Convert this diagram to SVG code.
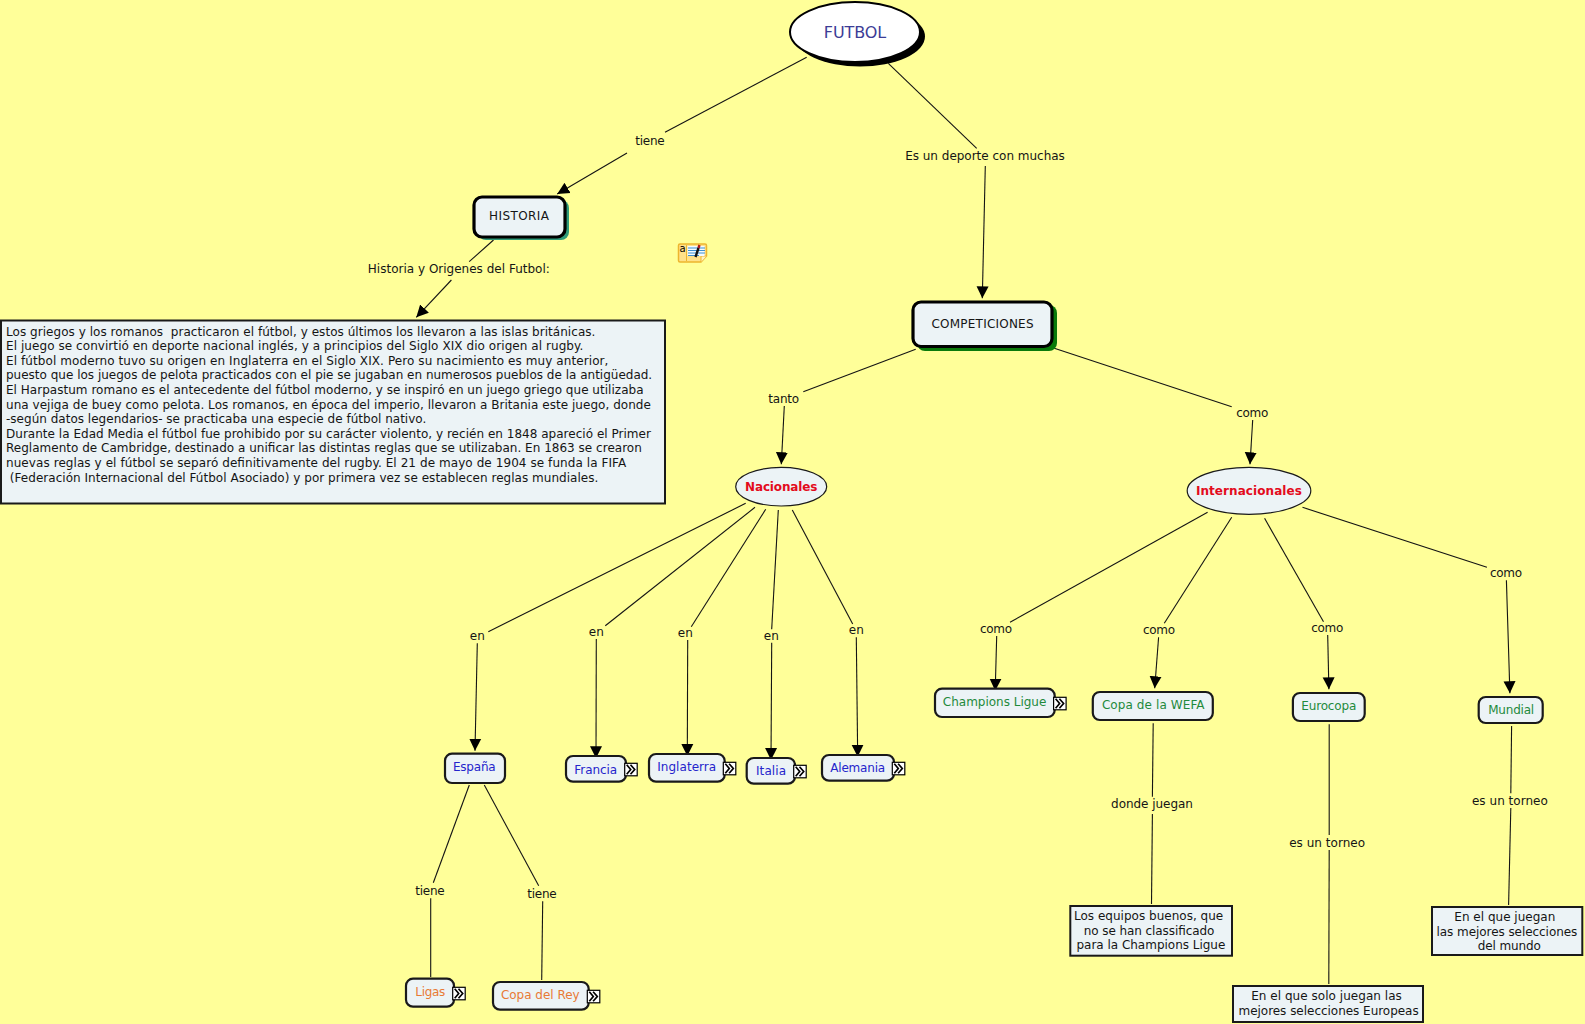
<svg xmlns="http://www.w3.org/2000/svg" width="1585" height="1024" viewBox="0 0 1585 1024">
<style>
text{font-family:"DejaVu Sans","Verdana",sans-serif;font-size:12px;fill:#151515;text-anchor:middle}
.l{fill:none;stroke:#141414;stroke-width:1.1}
.a{marker-end:url(#arrow)}
.box{fill:#ecf3f6;stroke:#1a1a1a;stroke-width:2.2}
.big{stroke:#000;stroke-width:3.2}
.txt{fill:#ecf3f6;stroke:#1a1a1a;stroke-width:2}
.body text{text-anchor:start}
.blue{fill:#2525cc}
.green{fill:#1f8a3c}
.orange{fill:#e87a35}
.red{fill:#e30b1c;font-weight:bold}
</style>
<defs>
<marker id="arrow" markerUnits="userSpaceOnUse" markerWidth="14" markerHeight="14" refX="12" refY="6.500" orient="auto">
<path d="M0,0.500 L12,6.500 L0,12.500 Z" fill="#000"/>
</marker>
<g id="more">
<rect x="0" y="0" width="12.500" height="12.500" fill="#fff" stroke="#000" stroke-width="1.200"/>
<path d="M2,1.500 L6,6.200 L2,11 M5.800,1.500 L10,6.200 L5.800,11" fill="none" stroke="#000" stroke-width="1.700"/>
</g>
</defs>
<rect width="1585" height="1024" fill="#ffff99"/>

<g id="connectors">
<line class="l" x1="806.700" y1="57.300" x2="665" y2="132.300"/>
<line class="l a" x1="627" y1="153" x2="557.200" y2="194"/>
<line class="l" x1="888.300" y1="63.300" x2="976.700" y2="148.300"/>
<line class="l a" x1="985.300" y1="166" x2="982.300" y2="298.300"/>
<line class="l" x1="493.500" y1="240" x2="469.200" y2="261.700"/>
<line class="l a" x1="451.400" y1="280" x2="416.300" y2="317.300"/>
<line class="l" x1="915.700" y1="349.300" x2="803.300" y2="391.700"/>
<line class="l a" x1="784.300" y1="406" x2="781.300" y2="464.300"/>
<line class="l" x1="1054.300" y1="348.300" x2="1231.700" y2="406.700"/>
<line class="l a" x1="1252.700" y1="420" x2="1250" y2="464.300"/>
<line class="l" x1="745.700" y1="503.300" x2="488.300" y2="631.700"/>
<line class="l a" x1="477.300" y1="643.300" x2="475" y2="750.700"/>
<line class="l" x1="755" y1="507.300" x2="605.300" y2="625.700"/>
<line class="l a" x1="596.300" y1="639" x2="596" y2="758.300"/>
<line class="l" x1="765.700" y1="509.300" x2="691.300" y2="626.700"/>
<line class="l a" x1="687.700" y1="640" x2="687.300" y2="756"/>
<line class="l" x1="778.300" y1="510" x2="771.700" y2="629.300"/>
<line class="l a" x1="771.700" y1="642.700" x2="771" y2="760"/>
<line class="l" x1="792.300" y1="510" x2="852.700" y2="624"/>
<line class="l a" x1="856.300" y1="637.300" x2="857.700" y2="756.700"/>
<line class="l" x1="469.300" y1="785" x2="433.300" y2="882.700"/>
<line class="l" x1="430.700" y1="898.300" x2="430.700" y2="977"/>
<line class="l" x1="484.300" y1="785" x2="538.700" y2="885.700"/>
<line class="l" x1="542.700" y1="901.300" x2="541.700" y2="980"/>
<line class="l" x1="1207.600" y1="512.300" x2="1010" y2="622.300"/>
<line class="l a" x1="996.700" y1="636" x2="995.200" y2="690.700"/>
<line class="l" x1="1231.700" y1="517.300" x2="1164.300" y2="623.300"/>
<line class="l a" x1="1158.600" y1="637.300" x2="1154.700" y2="688.300"/>
<line class="l" x1="1264.600" y1="518.300" x2="1323.500" y2="621.700"/>
<line class="l a" x1="1327.700" y1="635" x2="1328.900" y2="689.300"/>
<line class="l" x1="1302.500" y1="507.300" x2="1486.900" y2="567.300"/>
<line class="l a" x1="1506.400" y1="580.300" x2="1509.900" y2="693.300"/>
<line class="l" x1="1153.200" y1="723.300" x2="1152.400" y2="796.700"/>
<line class="l" x1="1152.400" y1="814" x2="1151.500" y2="904"/>
<line class="l" x1="1329.200" y1="724.300" x2="1329.200" y2="835"/>
<line class="l" x1="1329.200" y1="850" x2="1328.800" y2="984"/>
<line class="l" x1="1511.600" y1="726" x2="1510.800" y2="793.300"/>
<line class="l" x1="1510.800" y1="808" x2="1508.600" y2="905"/>
</g>

<g id="link-labels">
<text x="650" y="144.500" textLength="29.500">tiene</text>
<text x="985" y="160" textLength="159.700">Es un deporte con muchas</text>
<text x="458.800" y="273" textLength="182">Historia y Origenes del Futbol:</text>
<text x="783.700" y="402.500" textLength="31">tanto</text>
<text x="1252.300" y="417" textLength="32">como</text>
<text x="477.300" y="640">en</text>
<text x="596.300" y="636">en</text>
<text x="685.300" y="637">en</text>
<text x="771.300" y="640">en</text>
<text x="856.300" y="634">en</text>
<text x="430" y="895" textLength="29.500">tiene</text>
<text x="542" y="898" textLength="29.500">tiene</text>
<text x="996" y="633" textLength="32">como</text>
<text x="1159" y="634" textLength="32">como</text>
<text x="1327.300" y="632" textLength="32">como</text>
<text x="1506" y="577" textLength="32">como</text>
<text x="1152" y="808" textLength="81.800">donde juegan</text>
<text x="1327.100" y="847" textLength="75.900">es un torneo</text>
<text x="1509.900" y="804.500" textLength="75.900">es un torneo</text>
</g>

<g id="futbol">
<ellipse cx="860" cy="36.500" rx="65" ry="30" fill="#000"/>
<ellipse cx="855" cy="32" rx="65" ry="30" fill="#fff" stroke="#000" stroke-width="2"/>
<text x="855" y="37.500" style="font-size:16px;fill:#3c3c96" textLength="62.300">FUTBOL</text>
</g>

<g id="historia">
<rect x="478" y="200" width="91" height="40" rx="8" fill="#2f9a78"/>
<rect class="box big" x="474" y="197" width="91" height="40" rx="8"/>
<text x="519" y="220" textLength="60">HISTORIA</text>
</g>

<g id="nota">
<path d="M680,244 H705 Q706.500,244 706.500,245.500 V256 L701,262 H680 Q678.500,262 678.500,260.500 V245.500 Q678.500,244 680,244 Z" fill="#ffe189" stroke="#edb52e" stroke-width="1.500"/>
<path d="M701,262 V256 H706.500" fill="#fff3c4" stroke="#edb52e" stroke-width="1"/>
<line x1="686.500" y1="245" x2="686.500" y2="261" stroke="#edb52e" stroke-width="1"/>
<text x="682.500" y="252" style="font-size:10px;fill:#000">a</text>
<rect x="687.500" y="246" width="17" height="10" fill="#f4fbff"/>
<path d="M688,248 H705 M688,250.500 H705 M688,253 H705 M688,255.500 H699" stroke="#3d8fd0" stroke-width="1" fill="none"/>
<path d="M695.500,257 L698.500,248" stroke="#111" stroke-width="2.400" fill="none"/>
<path d="M698.500,248 L699.500,245" stroke="#b01818" stroke-width="2.400" fill="none"/>
</g>

<g id="texto-historia" class="body">
<rect class="txt" x="1" y="320.500" width="664" height="183"/>
<text xml:space="preserve" x="6" y="335.500" textLength="589.400">Los griegos y los romanos  practicaron el fútbol, y estos últimos los llevaron a las islas británicas.</text>
<text x="6" y="350.100" textLength="577.300">El juego se convirtió en deporte nacional inglés, y a principios del Siglo XIX dio origen al rugby.</text>
<text x="6" y="364.700" textLength="602.400">El fútbol moderno tuvo su origen en Inglaterra en el Siglo XIX. Pero su nacimiento es muy anterior,</text>
<text x="6" y="379.300" textLength="646.200">puesto que los juegos de pelota practicados con el pie se jugaban en numerosos pueblos de la antigüedad.</text>
<text x="6" y="393.900" textLength="637.500">El Harpastum romano es el antecedente del fútbol moderno, y se inspiró en un juego griego que utilizaba</text>
<text x="6" y="408.500" textLength="644.900">una vejiga de buey como pelota. Los romanos, en época del imperio, llevaron a Britania este juego, donde</text>
<text x="6" y="423.100" textLength="420.300">-según datos legendarios- se practicaba una especie de fútbol nativo.</text>
<text x="6" y="437.700" textLength="644.900">Durante la Edad Media el fútbol fue prohibido por su carácter violento, y recién en 1848 apareció el Primer</text>
<text x="6" y="452.300" textLength="635.800">Reglamento de Cambridge, destinado a unificar las distintas reglas que se utilizaban. En 1863 se crearon</text>
<text x="6" y="466.900" textLength="620.200">nuevas reglas y el fútbol se separó definitivamente del rugby. El 21 de mayo de 1904 se funda la FIFA</text>
<text xml:space="preserve" x="6" y="481.500" textLength="592.400"> (Federación Internacional del Fútbol Asociado) y por primera vez se establecen reglas mundiales.</text>
</g>

<g id="competiciones">
<rect x="917" y="305" width="140" height="46" rx="8" fill="#0a7a0a"/>
<rect class="box big" x="913" y="302" width="139" height="44.500" rx="8"/>
<text x="982.500" y="327.500" textLength="102">COMPETICIONES</text>
</g>

<g id="nacionales">
<ellipse class="box" style="stroke-width:1.200" cx="781.200" cy="486.700" rx="45.500" ry="19.300"/>
<text class="red" x="781.200" y="491" textLength="72.300">Nacionales</text>
</g>
<g id="internacionales">
<ellipse class="box" style="stroke-width:1.200" cx="1249" cy="490.800" rx="61.800" ry="23.500"/>
<text class="red" x="1248.900" y="495" textLength="106">Internacionales</text>
</g>

<g id="espana">
<rect class="box" x="445" y="753.700" width="60" height="29.300" rx="7"/>
<text class="blue" x="474.300" y="771" textLength="42.700">España</text>
</g>
<g id="francia">
<rect class="box" x="566" y="756" width="60" height="25.700" rx="7"/>
<text class="blue" x="595.700" y="773.500" textLength="42.700">Francia</text>
<use href="#more" x="624.700" y="763.300"/>
</g>
<g id="inglaterra">
<rect class="box" x="649" y="754" width="75.700" height="27.700" rx="7"/>
<text class="blue" x="686.700" y="771" textLength="59">Inglaterra</text>
<use href="#more" x="723.300" y="762.300"/>
</g>
<g id="italia">
<rect class="box" x="746.700" y="758" width="48.300" height="25.700" rx="7"/>
<text class="blue" x="771" y="775" textLength="30">Italia</text>
<use href="#more" x="793.700" y="765.300"/>
</g>
<g id="alemania">
<rect class="box" x="822" y="755" width="72" height="25.700" rx="7"/>
<text class="blue" x="857.700" y="772" textLength="55">Alemania</text>
<use href="#more" x="892.300" y="762.300"/>
</g>
<g id="ligas">
<rect class="box" x="406" y="978.700" width="48" height="28" rx="7"/>
<text class="orange" x="430.300" y="996" textLength="30">Ligas</text>
<use href="#more" x="452.700" y="987.300"/>
</g>
<g id="copa-rey">
<rect class="box" x="493" y="982" width="95.700" height="27.700" rx="7"/>
<text class="orange" x="540.300" y="999" textLength="78.700">Copa del Rey</text>
<use href="#more" x="587.300" y="990.300"/>
</g>
<g id="champions">
<rect class="box" x="935" y="688.700" width="119.700" height="28.300" rx="7"/>
<text class="green" x="994.600" y="705.500" textLength="103.500">Champions Ligue</text>
<use href="#more" x="1053.600" y="697.300"/>
</g>
<g id="wefa">
<rect class="box" x="1092.800" y="692" width="120" height="28" rx="7"/>
<text class="green" x="1153.200" y="708.500" textLength="102.600">Copa de la WEFA</text>
</g>
<g id="eurocopa">
<rect class="box" x="1292.900" y="693" width="71.800" height="28" rx="7"/>
<text class="green" x="1328.800" y="709.500" textLength="55">Eurocopa</text>
</g>
<g id="mundial">
<rect class="box" x="1478.700" y="697" width="64" height="26" rx="7"/>
<text class="green" x="1511.200" y="713.500" textLength="46">Mundial</text>
</g>

<g id="texto-wefa">
<rect class="txt" x="1070.300" y="906" width="161.700" height="49.700"/>
<text x="1148.600" y="920" textLength="149.300">Los equipos buenos, que</text>
<text x="1149" y="934.600" textLength="130.600">no se han classificado</text>
<text x="1150.900" y="949" textLength="148.900">para la Champions Ligue</text>
</g>
<g id="texto-eurocopa">
<rect class="txt" x="1233" y="986" width="190" height="36"/>
<text x="1326.500" y="1000" textLength="150.600">En el que solo juegan las</text>
<text x="1328.600" y="1014.500" textLength="180.200">mejores selecciones Europeas</text>
</g>
<g id="texto-mundial">
<rect class="txt" x="1432" y="907" width="150.300" height="48"/>
<text x="1504.800" y="920.500" textLength="101">En el que juegan</text>
<text x="1506.900" y="935.600" textLength="140.800">las mejores selecciones</text>
<text x="1509.300" y="950" textLength="63.200">del mundo</text>
</g>
</svg>
